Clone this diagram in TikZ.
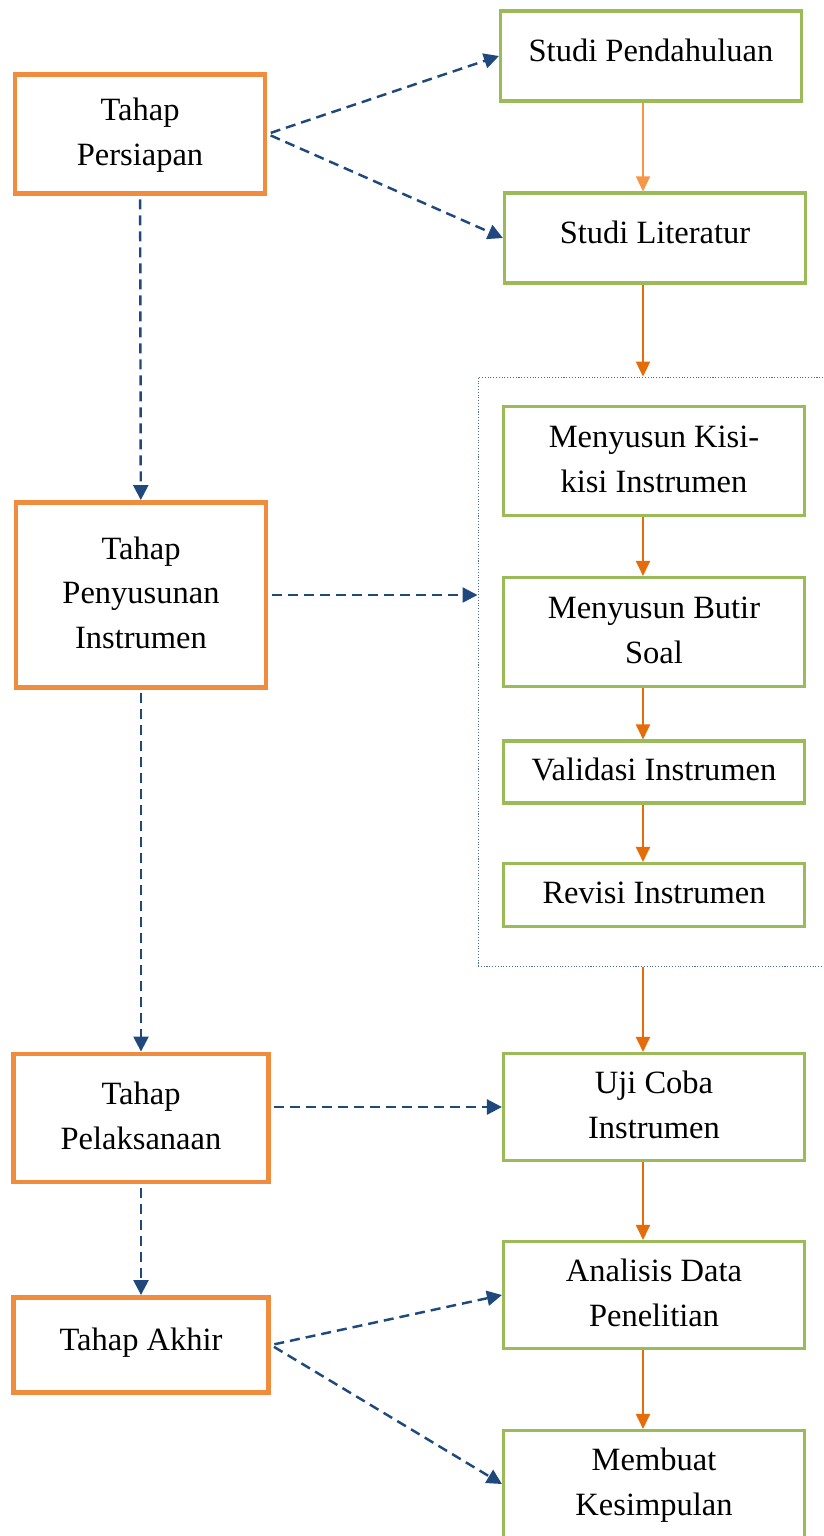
\documentclass[tikz,border=0pt]{standalone}
\usepackage{fontspec}
\setmainfont{Liberation Serif}
\usepackage{tikz}
\usetikzlibrary{arrows.meta}
\definecolor{tahaporange}{RGB}{240,140,62}
\definecolor{stepgreen}{RGB}{155,187,89}
\definecolor{flowblue}{RGB}{31,73,125}
\definecolor{darkorange}{RGB}{228,108,10}
\definecolor{lightorange}{RGB}{247,150,70}
\definecolor{groupblue}{RGB}{79,109,143}
\newcommand{\tall}[2][0cm]{\raisebox{#1}{\fontsize{18.5}{25.5}\selectfont\begin{tabular}{@{}c@{}}#2\end{tabular}}}
\tikzstyle{tahap} = [rectangle, minimum width=5cm, text centered, draw=tahaporange, line width=2.8pt]
\tikzstyle{langkah} = [rectangle, minimum width=6.02cm, text centered, draw=stepgreen, line width=1.8pt]
\tikzstyle{grup} = [rectangle, draw=groupblue, densely dotted, line width=0.6pt]
\tikzstyle{dasharrow} = [flowblue, line width=1.4pt, dash pattern=on 0.2cm off 0.12cm, shorten <=2pt, -{Triangle[length=0.3cm,width=0.3cm]}]
\tikzstyle{arrow} = [darkorange, line width=1.3pt, -{Triangle[length=0.3cm,width=0.28cm]}]
\begin{document}
\begin{tikzpicture}[x=0.02cm, y=-0.02cm]
        \useasboundingbox (0,0) rectangle (823,1536);
        % left column
        \node (persiapan) [tahap, minimum height=2.38cm] at (140,134) {\tall[0.1cm]{Tahap\\Persiapan}};
        \node (penyusunan) [tahap, minimum height=3.7cm] at (141,595) {\tall[0.6cm]{Tahap\\Penyusunan\\Instrumen}};
        \node (pelaksanaan) [tahap, minimum width=5.1cm, minimum height=2.56cm] at (141,1118) {\tall[0.32cm]{Tahap\\Pelaksanaan}};
        \node (akhir) [tahap, minimum width=5.1cm, minimum height=1.9cm] at (141,1345) {\tall[0.44cm]{Tahap Akhir}};
        % right column
        \node (pendahuluan) [langkah, minimum height=1.8cm] at (651,56) {\tall[0.44cm]{Studi Pendahuluan}};
        \node (literatur) [langkah, minimum height=1.8cm] at (655,238) {\tall[0.44cm]{Studi Literatur}};
        \node (grup) [grup, minimum width=7.28cm, minimum height=11.8cm] at (660,672) {};
        \node (kisi) [langkah, minimum height=2.18cm] at (654,461) {\tall{Menyusun Kisi-\\kisi Instrumen}};
        \node (butir) [langkah, minimum height=2.18cm] at (654,632) {\tall{Menyusun Butir\\Soal}};
        \node (validasi) [langkah, minimum height=1.24cm] at (654,772) {\tall{Validasi Instrumen}};
        \node (revisi) [langkah, minimum height=1.26cm] at (654,895) {\tall{Revisi Instrumen}};
        \node (ujicoba) [langkah, minimum height=2.14cm] at (654,1107) {\tall{Uji Coba\\Instrumen}};
        \node (analisis) [langkah, minimum height=2.14cm] at (654,1295) {\tall{Analisis Data\\Penelitian}};
        \node (membuat) [langkah, minimum height=2.14cm] at (654,1484) {\tall{Membuat\\Kesimpulan}};
        \coordinate (lajur) at (643,0);

        \draw [arrow, lightorange, line width=0.9pt] (pendahuluan.south -| lajur) -- (literatur.north -| lajur);
        \draw [arrow] (literatur.south -| lajur) -- (grup.north -| lajur);
        \draw [arrow] (kisi.south -| lajur) -- (butir.north -| lajur);
        \draw [arrow] (butir.south -| lajur) -- (validasi.north -| lajur);
        \draw [arrow] (validasi.south -| lajur) -- (revisi.north -| lajur);
        \draw [arrow] (grup.south -| lajur) -- (ujicoba.north -| lajur);
        \draw [arrow] (ujicoba.south -| lajur) -- (analisis.north -| lajur);
        \draw [arrow] (analisis.south -| lajur) -- (membuat.north -| lajur);

        \draw [dasharrow] (persiapan.east) -- (pendahuluan.west);
        \draw [dasharrow] (persiapan.east) -- (literatur.west);
        \draw [dasharrow] (persiapan) -- (penyusunan);
        \draw [dasharrow] (penyusunan.east) -- (penyusunan.east -| grup.west);
        \draw [dasharrow] (penyusunan) -- (pelaksanaan);
        \draw [dasharrow] (pelaksanaan.east |- ujicoba) -- (ujicoba.west);
        \draw [dasharrow] (pelaksanaan) -- (akhir);
        \draw [dasharrow] (akhir.east) -- (analisis.west);
        \draw [dasharrow] (akhir.east) -- (membuat.west);
\end{tikzpicture}
\end{document}
